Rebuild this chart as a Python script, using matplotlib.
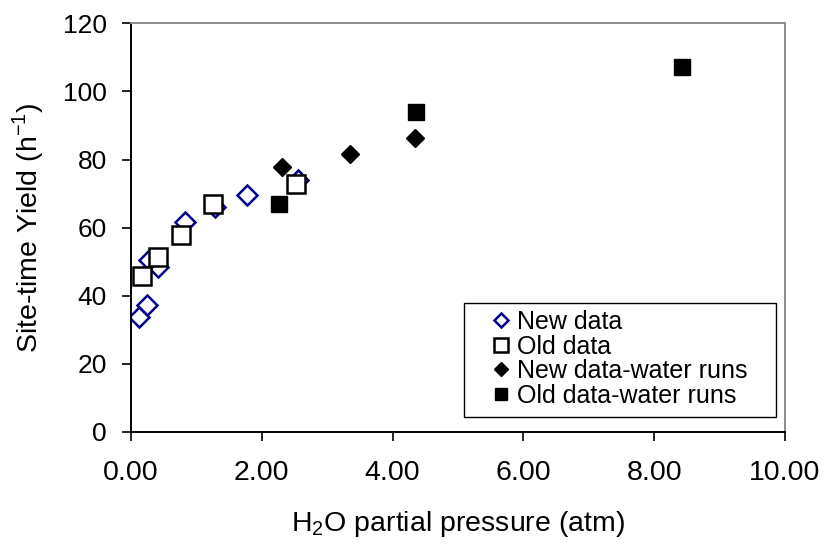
"""Site-time yield vs water partial pressure (scatter, matplotlib Agg)."""
import matplotlib

matplotlib.use("Agg")
import matplotlib.pyplot as plt  # noqa: E402
from matplotlib.patches import Rectangle  # noqa: E402
from matplotlib.ticker import FormatStrFormatter  # noqa: E402

plt.rcParams["font.family"] = ["Liberation Sans", "DejaVu Sans"]
plt.rcParams["mathtext.fontset"] = "custom"
plt.rcParams["mathtext.rm"] = "Liberation Sans"

# water partial pressure (atm) and site-time yield (1/h)
new_p = [0.12, 0.25, 0.27, 0.42, 0.82, 1.28, 1.78, 2.56]
new_sty = [33.9, 37.2, 50.5, 48.4, 61.8, 66.2, 69.6, 74.0]

old_p = [0.17, 0.42, 0.76, 1.26, 2.52]
old_sty = [45.8, 51.3, 57.9, 67.0, 72.9]

new_water_p = [2.31, 3.35, 4.34]
new_water_sty = [77.9, 81.6, 86.3]

old_water_p = [2.27, 4.36, 8.43]
old_water_sty = [66.9, 93.9, 107.2]

x_ticks = [0, 2, 4, 6, 8, 10]
y_ticks = [0, 20, 40, 60, 80, 100, 120]

fig = plt.figure(figsize=(8.24, 5.44), dpi=100)
ax = fig.add_axes([0.159, 0.206, 0.7937, 0.751])

ax.plot(new_p, new_sty, ls="none", marker="D", ms=9.8, mfc="none",
        mec="#00008B", mew=1.8, label="New data")
ax.plot(old_p, old_sty, ls="none", marker="s", ms=12.5, mfc="white",
        mec="black", mew=1.8, label="Old data")
ax.plot(new_water_p, new_water_sty, ls="none", marker="D", ms=9,
        mfc="black", mec="black", label="New data-water runs")
ax.plot(old_water_p, old_water_sty, ls="none", marker="s", ms=11.5,
        mfc="black", mec="black", label="Old data-water runs")

ax.set_xlim(0, 10)
ax.set_ylim(0, 120)
ax.set_xticks(x_ticks)
ax.set_yticks(y_ticks)
ax.xaxis.set_major_formatter(FormatStrFormatter("%.2f"))
ax.tick_params(direction="out", length=6.5, width=1.2)
ax.tick_params(axis="x", labelsize=20.5, pad=14)
ax.tick_params(axis="y", labelsize=19, pad=11)

for side in ("left", "bottom"):
    ax.spines[side].set_linewidth(1.4)
    ax.spines[side].set_color("black")
for side in ("top", "right"):
    ax.spines[side].set_linewidth(1.4)
    ax.spines[side].set_color("#8c8c8c")

ax.set_xlabel(r"H$_2$O partial pressure (atm)", fontsize=20.5, labelpad=16)
ax.set_ylabel(r"Site-time Yield (h$^{-1}$)", fontsize=20.5, labelpad=12)

# legend box drawn separately so the side padding can be wider than the top
ax.add_patch(Rectangle((0.509, 0.037), 0.477, 0.278, transform=ax.transAxes,
                       facecolor="white", edgecolor="black", lw=1.0,
                       zorder=4))
leg = ax.legend(loc="upper left", bbox_to_anchor=(0.5535, 0.298),
                borderaxespad=0, borderpad=0, frameon=False,
                fontsize=18, markerscale=0.75, handlelength=0.6,
                handletextpad=0.36, labelspacing=0.02)
leg.set_zorder(5)

fig.savefig("out.png", dpi=100)
plt.close(fig)
